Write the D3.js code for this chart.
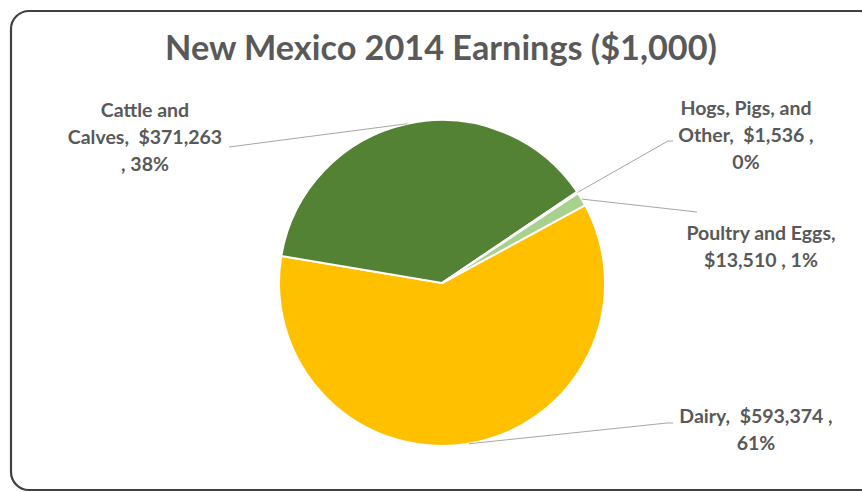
<!DOCTYPE html>
<html>
<head>
<meta charset="utf-8">
<script src="https://cdn.jsdelivr.net/npm/d3@7"></script>
<style>
	html, body { margin: 0; padding: 0; background: #fff; overflow: hidden; }
	svg { display: block; }
	text { font-family: Lato, 'Open Sans', sans-serif; font-weight: bold; fill: #595959; white-space: pre; }
</style>
</head>
<body>
<div id="chart"></div>
<script>
(function() {
	var categories = ['Dairy', 'Cattle and Calves', 'Hogs, Pigs, and Other', 'Poultry and Eggs'];
	var values = [593374, 371263, 1536, 13510];
	var colors = ['#FFC000', '#548235', '#E2F0D9', '#A9D18E'];
	// label wrapping as in the original (text only)
	var labelLines = [
		['Dairy,  {v} ,', '{p}'],
		['Cattle and', 'Calves,  {v}', ', {p}'],
		['Hogs, Pigs, and', 'Other,  {v} ,', '{p}'],
		['Poultry and Eggs,', '{v} , {p}']
	];

	var width = 862,
		height = 492,
		cx = 442,
		cy = 283,
		radius = 163,
		startDeg = 61.5;

	// label anchor (centre x, first baseline) and leader bend points
	var layout = [
		{ x: 756, y: 423, bend: [[667, 423], [673, 423]] },
		{ x: 145, y: 117, bend: [[229, 147]] },
		{ x: 746, y: 115, bend: [[668, 141], [673, 141]] },
		{ x: 761, y: 240, bend: [[697, 212]] }
	];

	var svg = d3.select('#chart').append('svg')
		.attr('width', width)
		.attr('height', height);

	svg.append('rect')
		.attr('x', 11).attr('y', 11)
		.attr('width', 866).attr('height', 479)
		.attr('rx', 18).attr('ry', 18)
		.attr('fill', '#fff')
		.attr('stroke', '#404040')
		.attr('stroke-width', 2.2);

	var title = svg.append('text')
		.attr('x', 441)
		.attr('y', 60)
		.attr('text-anchor', 'middle')
		.style('font-size', '30px')
		.text('New Mexico 2014 Earnings ($1,000)');
	var tw = title.node().getComputedTextLength();
	title.style('font-size', (30 * 552 / tw) + 'px');

	var total = d3.sum(values);
	var data = categories.map(function(c, i) { return { name: c, value: values[i], i: i }; });

	var pie = d3.pie()
		.sort(null)
		.value(function(d) { return d.value; })
		.startAngle(startDeg * Math.PI / 180)
		.endAngle((startDeg + 360) * Math.PI / 180);
	var arcs = pie(data);

	var arc = d3.arc().innerRadius(0).outerRadius(radius);
	var edge = d3.arc().innerRadius(radius).outerRadius(radius);

	var g = svg.append('g').attr('transform', 'translate(' + cx + ',' + cy + ')');
	g.selectAll('path.slice')
		.data(arcs)
		.enter()
		.append('path')
		.attr('class', 'slice')
		.attr('d', arc)
		.attr('fill', function(d) { return colors[d.data.i]; })
		.attr('stroke', '#fff')
		.attr('stroke-width', 2);

	var money = d3.format('$,');
	var pct = function(v) { return Math.round(v / total * 100) + '%'; };

	// leader lines
	var line = d3.line();
	arcs.forEach(function(d) {
		var c = edge.centroid(d);
		var pts = [[cx + c[0], cy + c[1]]].concat(layout[d.data.i].bend);
		svg.append('path')
			.attr('d', line(pts))
			.attr('fill', 'none')
			.attr('stroke', '#A6A6A6')
			.attr('stroke-width', 1);
	});

	// labels
	arcs.forEach(function(d) {
		var L = layout[d.data.i];
		var t = svg.append('text')
			.attr('text-anchor', 'middle')
			.style('font-size', '19.5px');
		labelLines[d.data.i].forEach(function(s, k) {
			t.append('tspan')
				.attr('x', L.x)
				.attr('y', L.y + k * 27)
				.text(s.replace('{v}', money(d.data.value)).replace('{p}', pct(d.data.value)));
		});
	});
})();
</script>
</body>
</html>
